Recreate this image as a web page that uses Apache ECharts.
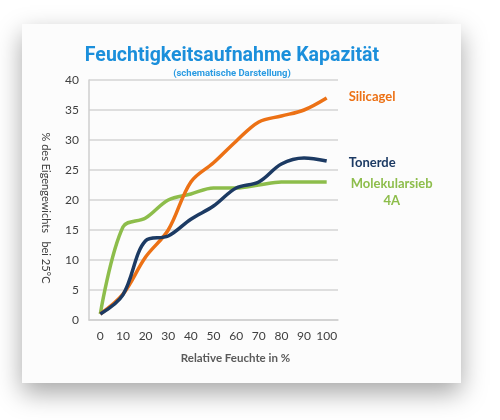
<!DOCTYPE html>
<html>
<head>
<meta charset="utf-8">
<script src="https://cdn.jsdelivr.net/npm/echarts@6/dist/echarts.min.js"></script>
<style>
html,body{margin:0;padding:0;background:#ffffff;width:500px;height:420px;overflow:hidden;}
#card{position:absolute;left:22px;top:24px;width:439px;height:359px;background:#fcfcfc;
 box-shadow:0 10px 24px rgba(0,0,0,0.35);}
#chart{position:absolute;left:0;top:0;width:500px;height:420px;}
</style>
</head>
<body>
<div id="card"></div>
<div id="chart"></div>
<script>
const categories = ['0','10','20','30','40','50','60','70','80','90','100'];
const silicagel = [1, 4.3, 10.5, 15, 23, 26.2, 29.8, 33, 34, 35, 37];
const tonerde = [1, 4.2, 13.2, 14, 16.8, 19, 22, 23, 26, 27, 26.5];
const molekularsieb = [1, 15.5, 17, 20, 21, 22, 22, 22.5, 23, 23, 23];
const yTicks = {min: 0, max: 40, interval: 5};

const chart = echarts.init(document.getElementById('chart'), null, {renderer: 'canvas'});
const lbl = {fontFamily: 'Lato', fontSize: 13, fontWeight: 'bold'};
chart.setOption({
  backgroundColor: 'transparent',
  animation: false,
  title: {
    text: 'Feuchtigkeitsaufnahme Kapazität',
    subtext: '(schematische Darstellung)',
    left: 227, top: 41, textAlign: 'center', itemGap: 3,
    textStyle: {fontFamily: 'Roboto', fontSize: 19.5, fontWeight: 'bold', color: '#1b8fdb'},
    subtextStyle: {fontFamily: 'Roboto', fontSize: 9.5, fontWeight: 'bold', color: '#2a9be2'}
  },
  grid: {left: 89, right: 162, top: 80, bottom: 100, containLabel: false},
  xAxis: {
    type: 'category', data: categories, boundaryGap: true,
    name: 'Relative Feuchte in %', nameLocation: 'middle', nameGap: 32,
    nameTextStyle: {fontFamily: 'Lato', fontSize: 11.5, fontWeight: 'bold', color: '#5a5a5a', padding: [0,0,0,44]},
    axisLine: {show: true, lineStyle: {color: '#cfcfcf', width: 1.5}},
    axisTick: {show: false},
    axisLabel: {fontFamily: 'Lato', fontSize: 12, color: '#404040', margin: 10, interval: 0}
  },
  yAxis: {
    type: 'value', min: yTicks.min, max: yTicks.max, interval: yTicks.interval,
    name: '% des Eigengewichts   bei 25°C', nameLocation: 'middle', nameGap: 38, nameRotate: -90,
    nameTextStyle: {fontFamily: 'Lato', fontSize: 11, color: '#404040', padding: [0,0,0,16]},
    axisLine: {show: true, lineStyle: {color: '#cfcfcf', width: 1.5}},
    axisTick: {show: false},
    splitLine: {show: true, lineStyle: {color: '#d4d4d4', width: 1.5}},
    axisLabel: {fontFamily: 'Lato', fontSize: 12, color: '#404040', margin: 10}
  },
  series: [
    {
      name: 'Silicagel', type: 'line', data: silicagel, smooth: 0.35, showSymbol: false,
      lineStyle: {color: '#ec7115', width: 3.5}, itemStyle: {color: '#ec7115'},
      endLabel: Object.assign({show: true, formatter: 'Silicagel', color: '#ec7115', distance: 22, offset: [0, -1]}, lbl),
      z: 3
    },
    {
      name: 'Tonerde', type: 'line', data: tonerde, smooth: 0.35, showSymbol: false,
      lineStyle: {color: '#1c3a63', width: 3.5}, itemStyle: {color: '#1c3a63'},
      endLabel: Object.assign({show: true, formatter: 'Tonerde', color: '#1c3a63', distance: 22, offset: [0, 2]}, lbl),
      z: 4
    },
    {
      name: 'Molekularsieb 4A', type: 'line', data: molekularsieb, smooth: 0.35, showSymbol: false,
      lineStyle: {color: '#8dbd4b', width: 3.5}, itemStyle: {color: '#8dbd4b'},
      endLabel: Object.assign({show: true, formatter: 'Molekularsieb\n4A', color: '#8dbd4b', distance: 5,
        align: 'center', lineHeight: 17, offset: [60, 10]}, lbl),
      z: 2
    }
  ]
});
</script>
</body>
</html>
